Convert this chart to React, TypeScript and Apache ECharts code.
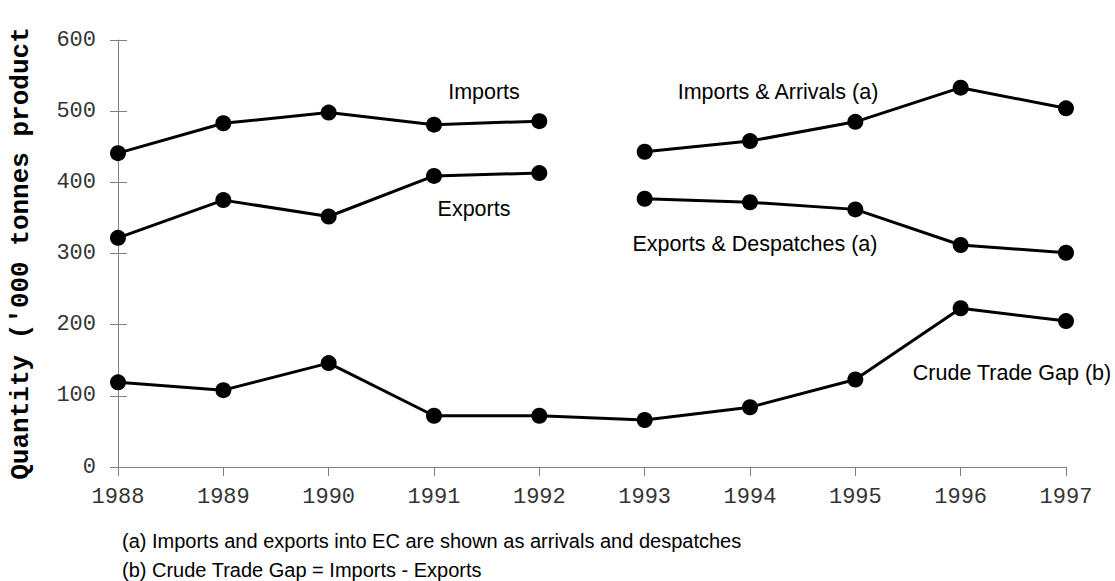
import React, { useEffect, useRef } from "react";
import * as echarts from "echarts";

const years = ["1988", "1989", "1990", "1991", "1992", "1993", "1994", "1995", "1996", "1997"];
const imports = [441, 483, 498, 481, 486, null, null, null, null, null];
const exportsData = [322, 375, 352, 409, 413, null, null, null, null, null];
const importsArrivals = [null, null, null, null, null, 443, 458, 485, 533, 504];
const exportsDespatches = [null, null, null, null, null, 377, 372, 362, 312, 301];
const crudeTradeGap = [119, 108, 146, 72, 72, 66, 84, 123, 223, 205];

const seriesNames = ["Imports", "Exports", "Imports & Arrivals (a)", "Exports & Despatches (a)", "Crude Trade Gap (b)"];
const seriesValues = [imports, exportsData, importsArrivals, exportsDespatches, crudeTradeGap];

const yTitle = "Quantity ('000 tonnes product";
const footnotes = [
  "(a) Imports and exports into EC are shown as arrivals and despatches",
  "(b) Crude Trade Gap = Imports - Exports",
];

export default function App() {
  const ref = useRef<HTMLDivElement>(null);
  useEffect(() => {
    if (!ref.current) return;
    const chart = echarts.init(ref.current, null, { renderer: "svg" });
    const labelFont = { fontFamily: "Liberation Sans, Arial, sans-serif", fontSize: 21.5, fill: "#000" };
    const labelPos: [string, number, number, string][] = [
      ["Imports", 484, 92, "center"],
      ["Exports", 474, 209, "center"],
      ["Imports & Arrivals (a)", 778, 92, "center"],
      ["Exports & Despatches (a)", 755, 244, "center"],
      ["Crude Trade Gap (b)", 1012, 373, "center"],
    ];
    chart.setOption({
      animation: false,
      backgroundColor: "#fff",
      grid: { left: 115, right: 49, top: 40, bottom: 114 },
      xAxis: {
        type: "category",
        data: years,
        boundaryGap: false,
        axisLine: { lineStyle: { color: "#808080", width: 1 } },
        axisTick: { show: true, length: 9, lineStyle: { color: "#808080" } },
        axisLabel: { fontFamily: "Liberation Mono, Courier New, monospace", fontSize: 22, color: "#333", margin: 19 },
        splitLine: { show: false },
      },
      yAxis: [
        {
          type: "value",
          min: 0,
          max: 600,
          interval: 100,
          name: yTitle,
          nameLocation: "middle",
          nameGap: 84,
          nameTextStyle: { fontFamily: "Liberation Mono, Courier New, monospace", fontWeight: "bold", fontSize: 26, color: "#000" },
          axisLine: { show: true, lineStyle: { color: "#808080", width: 1 } },
          axisTick: { show: true, length: 8, lineStyle: { color: "#808080" } },
          axisLabel: { fontFamily: "Liberation Mono, Courier New, monospace", fontSize: 22, color: "#333", margin: 22 },
          splitLine: { show: false },
        },
        {
          type: "value",
          min: 0,
          max: 600,
          interval: 100,
          position: "left",
          axisLine: { show: false },
          axisTick: { show: true, inside: true, length: 9, lineStyle: { color: "#808080" } },
          axisLabel: { show: false },
          splitLine: { show: false },
        },
      ],
      series: seriesNames.map((name, i) => ({
        name,
        type: "line",
        yAxisIndex: 0,
        data: seriesValues[i],
        connectNulls: false,
        symbol: "circle",
        symbolSize: 16,
        lineStyle: { color: "#000", width: 3 },
        itemStyle: { color: "#000" },
      })),
      graphic: [
        ...labelPos.map(([t, x, y, align]) => ({
          type: "text",
          x,
          y,
          style: { ...labelFont, text: t, textAlign: align, textVerticalAlign: "middle" },
        })),
        ...footnotes.map((t, i) => ({
          type: "text",
          x: 122,
          y: 541 + i * 29,
          style: { ...labelFont, fontSize: 20, text: t, textAlign: "left", textVerticalAlign: "middle" },
        })),
      ],
    });
    return () => chart.dispose();
  }, []);
  return <div ref={ref} style={{ position: "absolute", left: 0, top: 0, width: 1115, height: 581, background: "#fff" }} />;
}
